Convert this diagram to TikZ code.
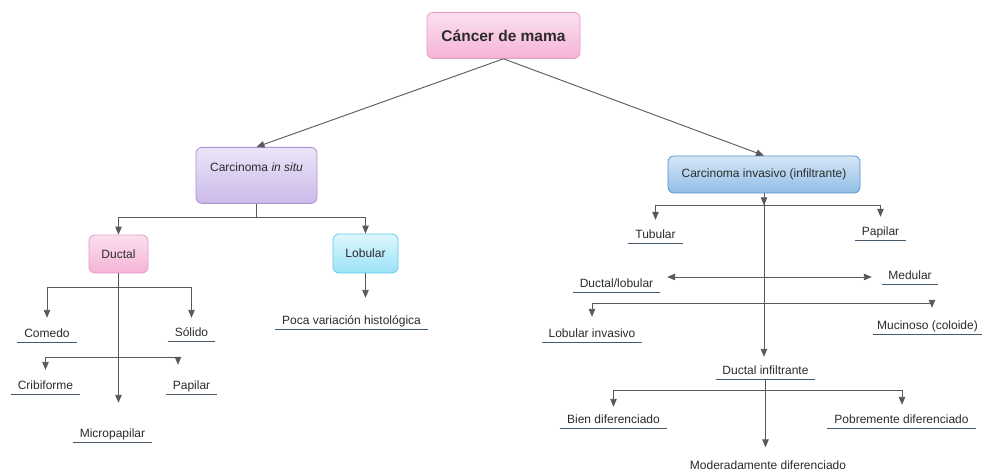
\documentclass[tikz,border=0pt]{standalone}
\usepackage{fontspec}
\setmainfont{Liberation Sans}
\usetikzlibrary{arrows.meta,calc}
\definecolor{pinkT}{HTML}{FBE0EF}
\definecolor{pinkBot}{HTML}{F5B3D7}
\definecolor{pinkB}{HTML}{E59CC6}
\definecolor{purT}{HTML}{ECE4F8}
\definecolor{purBot}{HTML}{CBBAEA}
\definecolor{purB}{HTML}{A996D2}
\definecolor{cyaT}{HTML}{DDF7FE}
\definecolor{cyaBot}{HTML}{9CE2F7}
\definecolor{cyaB}{HTML}{62CBEA}
\definecolor{bluT}{HTML}{D6E7F6}
\definecolor{bluBot}{HTML}{8FBDE6}
\definecolor{bluB}{HTML}{5B92C8}
\definecolor{linec}{HTML}{595959}
\definecolor{ulc}{HTML}{46596B}
\definecolor{txt}{HTML}{2B2B2B}
\begin{document}
\begin{tikzpicture}[x=1pt,y=-1pt,
  font=\fontsize{12}{14}\selectfont,
  box/.style={draw, rounded corners=6pt, line width=0.8pt, inner sep=0pt, align=center, text=txt},
  pinkbox/.style={box, draw=pinkB, top color=pinkT, bottom color=pinkBot},
  purbox/.style={box, draw=purB, top color=purT, bottom color=purBot},
  cyabox/.style={box, draw=cyaB, top color=cyaT, bottom color=cyaBot},
  blubox/.style={box, draw=bluB, top color=bluT, bottom color=bluBot},
  leaf/.style={inner xsep=0pt, inner ysep=0pt, text height=9pt, text depth=5pt, anchor=base, text=txt},
  uline/.style={draw=ulc, line width=0.9pt},
  conn/.style={draw=linec, line width=0.9pt},
  arr/.style={conn, -{Triangle[length=8pt,width=6.5pt]}},
  dbl/.style={conn, {Triangle[length=8pt,width=6.5pt]}-{Triangle[length=8pt,width=6.5pt]}},
]
\useasboundingbox[fill=white] (0,0) rectangle (982,473);

% boxes
\node[pinkbox, font=\fontsize{15.5}{18}\selectfont\bfseries, minimum width=153pt, minimum height=46pt, anchor=north] (top) at (503.5,12) {Cáncer de mama};
\node[purbox, minimum width=121pt, text height=24pt, text depth=32pt, anchor=north] (insitu) at (256.5,147) {Carcinoma \textit{in situ}};
\node[blubox, minimum width=192pt, minimum height=37pt] (inv) at (764,174.5) {Carcinoma invasivo (infiltrante)};
\node[pinkbox, minimum width=59pt, minimum height=38pt] (ductal) at (118.5,254) {Ductal};
\node[cyabox, minimum width=65pt, minimum height=39pt] (lobular) at (365.5,253.5) {Lobular};

% leaves
\node[leaf, minimum width=153pt] (poca) at (351.5,324) {Poca variación histológica};
\node[leaf, minimum width=60pt] (comedo) at (47,337) {Comedo};
\node[leaf, minimum width=47pt] (solido) at (191.5,336) {Sólido};
\node[leaf, minimum width=69pt] (cribi) at (45.5,389) {Cribiforme};
\node[leaf, minimum width=51pt] (papil1) at (191.5,389) {Papilar};
\node[leaf, minimum width=79pt] (micro) at (112.5,437) {Micropapilar};
\node[leaf, minimum width=55pt] (tubular) at (655.5,238) {Tubular};
\node[leaf, minimum width=51pt] (papil2) at (880.5,235) {Papilar};
\node[leaf, minimum width=87pt] (dl) at (616.5,287) {Ductal/lobular};
\node[leaf, minimum width=56pt] (medular) at (910,279) {Medular};
\node[leaf, minimum width=100pt] (lobinv) at (592,337) {Lobular invasivo};
\node[leaf, minimum width=109pt] (mucin) at (927.5,329) {Mucinoso (coloide)};
\node[leaf, minimum width=99pt] (di) at (765.5,374) {Ductal infiltrante};
\node[leaf, minimum width=107pt] (bien) at (613.5,423) {Bien diferenciado};
\node[leaf, minimum width=149pt] (pobre) at (901.5,423) {Pobremente diferenciado};
\node[leaf] (moder) at (768,469.5) {Moderadamente diferenciado};

\foreach \n in {poca,comedo,solido,cribi,papil1,micro,tubular,papil2,dl,medular,lobinv,mucin,di,bien,pobre}
  \draw[uline] (\n.south west) -- (\n.south east);

% connectors
\draw[arr] (top.south) -- (insitu.north);
\draw[arr] (top.south) -- (inv.north);

\draw[arr] (insitu.south) -- ++(0,14) -| (ductal.north);
\draw[arr] (insitu.south) -- ++(0,14) -| (lobular.north);
\draw[arr] (lobular.south) -- ($(lobular.south |- poca.north)+(0,-17)$);

\draw[arr] (ductal.south) -- ($(ductal.south |- micro.north)+(0,-25)$);
\draw[arr] ($(ductal.south)+(0,14)$) -| ($(comedo.north)+(0,-10)$);
\draw[arr] ($(ductal.south)+(0,14)$) -| ($(solido.north)+(0,-9)$);
\draw[arr] ($(ductal.south)+(0,84)$) -| ($(cribi.north)+(0,-10)$);
\draw[arr] ($(ductal.south)+(0,84)$) -| ($(papil1.north)+(-13.5,-15)$);

\draw[arr] (inv.south) -- ++(0,12);
\draw[arr] (inv.south) -- ($(inv.south |- di.north)+(0,-8)$);
\draw[arr] ($(inv.south)+(0,12)$) -| ($(tubular.north)+(0,-9)$);
\draw[arr] ($(inv.south)+(0,12)$) -| ($(papil2.north)+(0,-9)$);
\draw[dbl] ($(dl.east |- medular.west)+(7,0)$) -- ($(medular.west)+(-10,0)$);
\draw[arr] ($(inv.south)+(0,110)$) -| ($(lobinv.north)+(0,-11)$);
\draw[arr] ($(inv.south)+(0,110)$) -| ($(mucin.north)+(4.5,-12)$);

\draw[arr] (di.south) -- ($(di.south |- moder.north)+(0,-13)$);
\draw[arr] ($(di.south)+(0,11)$) -| ($(bien.north)+(0,-7)$);
\draw[arr] ($(di.south)+(0,11)$) -| ($(pobre.north)+(0.5,-9)$);
\end{tikzpicture}
\end{document}
